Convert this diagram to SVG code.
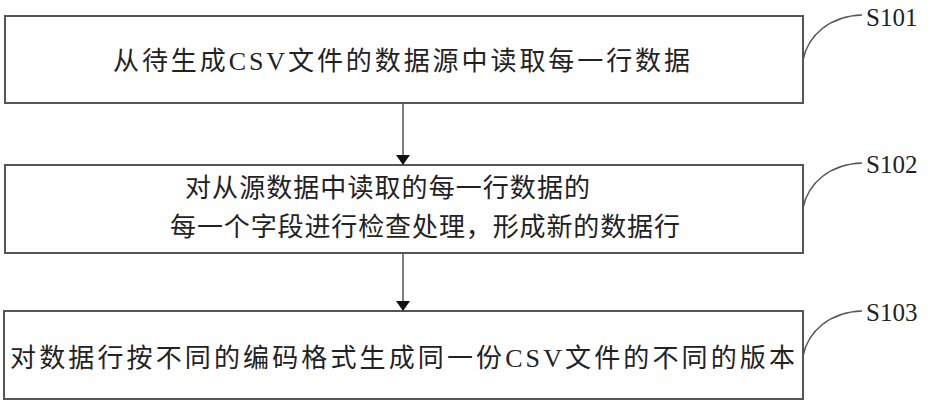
<svg xmlns="http://www.w3.org/2000/svg" width="931" height="402" viewBox="0 0 931 402">
<style>
.b{fill:#fff;stroke:#555;stroke-width:2}
.t{font-family:"Liberation Serif","Noto Sans CJK SC",serif;font-size:26px;fill:#222}
.l{font-family:"Liberation Serif",serif;font-size:25px;fill:#222}
.c{fill:none;stroke:#555;stroke-width:1.5}
</style>
<defs>
<marker id="h" viewBox="0 0 10 14" markerWidth="10" markerHeight="14" refX="10" refY="7" orient="auto" markerUnits="userSpaceOnUse"><path d="M0,0 L10,7 L0,14 z" fill="#111"/></marker></defs>
<g id="n1"><rect class="b" x="5" y="16" width="798" height="87"/><text class="t" x="113" y="70" textLength="577">从待生成CSV文件的数据源中读取每一行数据</text></g>
<g id="n2"><rect class="b" x="5" y="165" width="798" height="88"/><text class="t" x="185" y="197" textLength="405">对从源数据中读取的每一行数据的</text><text class="t" x="170" y="236" textLength="510">每一个字段进行检查处理，形成新的数据行</text></g>
<g id="n3"><rect class="b" x="4" y="311" width="799" height="88"/><text class="t" x="10" y="367" textLength="785">对数据行按不同的编码格式生成同一份CSV文件的不同的版本</text></g>
<g id="labels"><text class="l" x="866" y="26">S101</text><text class="l" x="866" y="173">S102</text><text class="l" x="866" y="321">S103</text></g>
<g id="connectors">
<path class="c" d="M803,60 C808,35 830,16 862,15"/>
<path class="c" d="M803,208 C808,183 830,164 862,163"/>
<path class="c" d="M803,356 C808,331 830,312 862,311"/>
<line class="c" x1="403" y1="103" x2="403" y2="165" marker-end="url(#h)"/>
<line class="c" x1="403" y1="253" x2="403" y2="311" marker-end="url(#h)"/>
</g>
</svg>
